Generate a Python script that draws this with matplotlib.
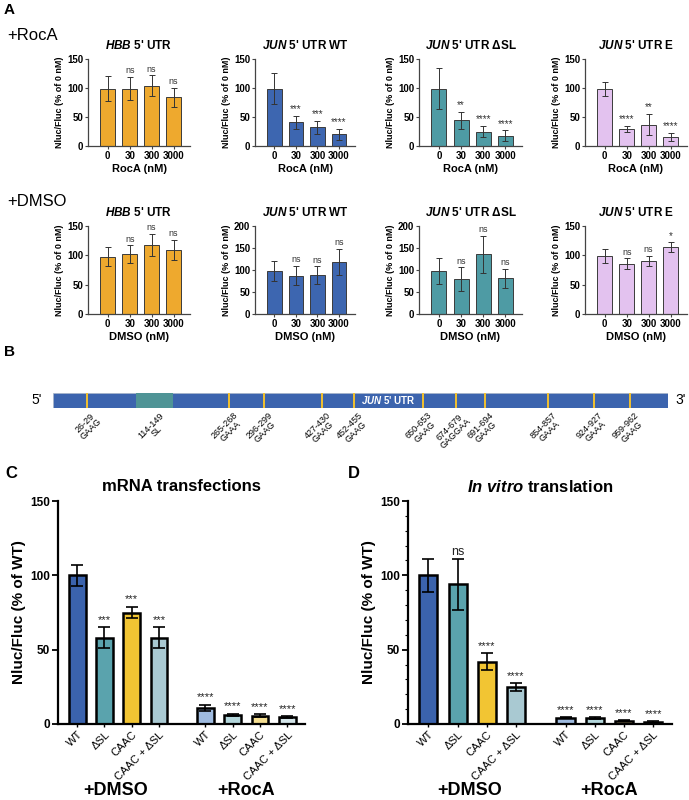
import numpy as np
import matplotlib
matplotlib.use('Agg')
import matplotlib.pyplot as plt
import matplotlib.transforms as mtransforms
from matplotlib.patches import Rectangle

plt.rcParams['font.family'] = ['Liberation Sans', 'DejaVu Sans']
plt.rcParams['mathtext.fontset'] = 'custom'
plt.rcParams['mathtext.it'] = 'Liberation Sans:italic:bold'
plt.rcParams['mathtext.rm'] = 'Liberation Sans:bold'
plt.rcParams['mathtext.bf'] = 'Liberation Sans:bold'

# ---- panel A: dose response ----
doses = ['0', '30', '300', '3000']

hbb_roca = [99, 99, 104, 84]
hbb_roca_err = [22, 20, 18, 16]
hbb_roca_sig = ['', 'ns', 'ns', 'ns']
wt_roca = [99, 41, 32, 20]
wt_roca_err = [27, 11, 11, 10]
wt_roca_sig = ['', '***', '***', '****']
dsl_roca = [99, 44, 25, 18]
dsl_roca_err = [36, 15, 10, 9]
dsl_roca_sig = ['', '**', '****', '****']
e_roca = [99, 29, 37, 15]
e_roca_err = [12, 5, 18, 7]
e_roca_sig = ['', '****', '**', '****']

hbb_dmso = [98, 102, 118, 109]
hbb_dmso_err = [17, 15, 19, 17]
hbb_dmso_sig = ['', 'ns', 'ns', 'ns']
wt_dmso = [98, 87, 88, 118]
wt_dmso_err = [23, 22, 20, 30]
wt_dmso_sig = ['', 'ns', 'ns', 'ns']
dsl_dmso = [98, 79, 136, 81]
dsl_dmso_err = [29, 27, 42, 21]
dsl_dmso_sig = ['', 'ns', 'ns', 'ns']
e_dmso = [99, 86, 90, 114]
e_dmso_err = [12, 9, 9, 8]
e_dmso_sig = ['', 'ns', 'ns', '*']

titles_A = [r"$\it{HBB}$ 5' UTR", r"$\it{JUN}$ 5' UTR WT",
            r"$\it{JUN}$ 5' UTR ΔSL", r"$\it{JUN}$ 5' UTR E"]
colors_A = ['#EEA92E', '#3D66B0', '#4E9BA4', '#E3C2EF']

# ---- panel B: JUN 5' UTR map ----
utr_len = 1000
sl_start, sl_end = 114, 149
site_start = [26, 265, 296, 427, 452, 650, 674, 691, 854, 924, 959]
site_end = [29, 268, 299, 430, 455, 653, 679, 694, 857, 927, 962]
site_motif = ['GAAG', 'GAAA', 'GAAG', 'GAAG', 'GAAG', 'GAAG', 'GAGGAA',
              'GAAG', 'GAAA', 'GAAA', 'GAAG']

# ---- panels C, D ----
constructs = ['WT', 'ΔSL', 'CAAC', 'CAAC + ΔSL']
c_dmso = [100, 58, 75, 58]
c_dmso_err = [7, 7, 4, 7]
c_dmso_sig = ['', '***', '***', '***']
c_roca = [11, 6.3, 5.6, 4.7]
c_roca_err = [2, 0.6, 1, 0.8]
c_roca_sig = ['****', '****', '****', '****']

d_dmso = [100, 94, 42, 25]
d_dmso_err = [11, 17, 5.5, 2.5]
d_dmso_sig = ['', 'ns', '****', '****']
d_roca = [4.3, 3.8, 2.2, 1.1]
d_roca_err = [0.3, 0.6, 0.3, 0.6]
d_roca_sig = ['****', '****', '****', '****']

dmso_colors = ['#3B63AD', '#5AA3AD', '#F2C533', '#A9C9D2']
roca_colors = ['#9FBBE0', '#B3D6DB', '#F5DF92', '#D4E5E9']

W, H = 689, 800
fig = plt.figure(figsize=(W / 100, H / 100), dpi=100)


def px_axes(x0, y0, x1, y1):
    return fig.add_axes([x0 / W, 1 - y1 / H, (x1 - x0) / W, (y1 - y0) / H])


def dose_panel(ax, means, errs, sig, color, title, ymax, xlabel):
    x = np.arange(len(doses))
    ax.bar(x, means, width=0.68, color=color, edgecolor='#3b3b3b', linewidth=0.7,
           yerr=errs, capsize=2.5,
           error_kw={'elinewidth': 0.7, 'capthick': 0.7, 'ecolor': '#333333'})
    for xi, m, e, s in zip(x, means, errs, sig):
        if s:
            ax.text(xi, m + e + ymax * 0.02, s, ha='center', va='bottom',
                    fontsize=6.5 if s == 'ns' else 7, color='#333333')
    ax.set_xlim(-0.9, 3.75)
    ax.set_ylim(0, ymax)
    ax.set_yticks(np.arange(0, ymax + 1, 50))
    ax.set_xticks(x)
    ax.set_xticklabels(doses)
    ax.set_title(title, fontsize=8.5, fontweight='bold', pad=7)
    ax.set_xlabel(xlabel, fontsize=8, fontweight='bold', labelpad=2)
    ax.set_ylabel('Nluc/Fluc (% of 0 nM)', fontsize=6.5, fontweight='bold', labelpad=2)
    ax.tick_params(labelsize=7, length=2, width=0.8, pad=1.5, color='#444444')
    for lab in ax.get_xticklabels() + ax.get_yticklabels():
        lab.set_fontweight('bold')
    for sp in ['top', 'right']:
        ax.spines[sp].set_visible(False)
    for sp in ['left', 'bottom']:
        ax.spines[sp].set_linewidth(0.9)
        ax.spines[sp].set_color('#444444')


cols_px = [(88, 190), (255, 355), (419, 522), (585, 687)]
roca_sets = [(hbb_roca, hbb_roca_err, hbb_roca_sig), (wt_roca, wt_roca_err, wt_roca_sig),
             (dsl_roca, dsl_roca_err, dsl_roca_sig), (e_roca, e_roca_err, e_roca_sig)]
dmso_sets = [(hbb_dmso, hbb_dmso_err, hbb_dmso_sig), (wt_dmso, wt_dmso_err, wt_dmso_sig),
             (dsl_dmso, dsl_dmso_err, dsl_dmso_sig), (e_dmso, e_dmso_err, e_dmso_sig)]
dmso_ymax = [150, 200, 200, 150]

for i, (x0, x1) in enumerate(cols_px):
    ax = px_axes(x0, 59, x1, 146)
    m, e, s = roca_sets[i]
    dose_panel(ax, m, e, s, colors_A[i], titles_A[i], 150, 'RocA (nM)')
    ax = px_axes(x0, 226, x1, 314)
    m, e, s = dmso_sets[i]
    dose_panel(ax, m, e, s, colors_A[i], titles_A[i], dmso_ymax[i], 'DMSO (nM)')

fig.text(4 / W, 1 - 3 / H, 'A', fontsize=11, fontweight='bold', va='top')
fig.text(7 / W, 1 - 36 / H, '+RocA', fontsize=12, va='center')
fig.text(7 / W, 1 - 202 / H, '+DMSO', fontsize=12, va='center')

# ---- panel B ----
# schematic (not to scale) axis: gaps between features drawn by a + sqrt(length)
site_mid = [(s + e) / 2 for s, e in zip(site_start, site_end)]
bounds = np.array([0] + sorted(site_mid + [sl_start, sl_end]) + [utr_len], dtype=float)
schem = np.concatenate([[0.0], np.cumsum(3.4 + np.sqrt(np.diff(bounds)))])


def fwd(x):
    return np.interp(x, bounds, schem)


def inv(y):
    return np.interp(y, schem, bounds)


axb = px_axes(53, 393, 668, 408)
axb.set_xscale('function', functions=(fwd, inv))
axb.add_patch(Rectangle((0, 0), utr_len, 1, facecolor='#3C64AE', edgecolor='#a8b4c8', lw=0.5))
axb.add_patch(Rectangle((sl_start, 0), sl_end - sl_start, 1, facecolor='#4F9496', edgecolor='none'))
lab_kw = dict(rotation=45, ha='right', va='top', rotation_mode='anchor', fontsize=6.5,
              linespacing=0.95, multialignment='center', textcoords='offset points',
              annotation_clip=False)
for s, e, mid, mtf in zip(site_start, site_end, site_mid, site_motif):
    axb.axvline(mid, color='#F2C12E', lw=1.4)
    axb.annotate(f'{s}-{e}\n{mtf}', xy=(mid, 0), xytext=(3, -2), **lab_kw)
axb.annotate(f'{sl_start}-{sl_end}\nSL', xy=((sl_start + sl_end) / 2, 0), xytext=(3, -2), **lab_kw)
axb.text((site_end[4] + site_start[5]) / 2, 0.5, r"$\it{JUN}$ 5' UTR", color='white',
         fontsize=7, fontweight='bold', ha='center', va='center')
axb.text(-0.018, 0.5, "5'", transform=axb.transAxes, fontsize=10, ha='right', va='center')
axb.text(1.012, 0.5, "3'", transform=axb.transAxes, fontsize=10, ha='left', va='center')
axb.set_xlim(0, utr_len)
axb.set_ylim(0, 1)
axb.axis('off')
fig.text(4 / W, 1 - 345 / H, 'B', fontsize=11, fontweight='bold', va='top')


# ---- panels C, D ----
def construct_panel(ax, dmso, dmso_err, dmso_sig, roca, roca_err, roca_sig, title, minor):
    xd = np.arange(len(constructs))
    xr = xd + 4.7
    ekw = {'elinewidth': 1.2, 'capthick': 1.2, 'ecolor': 'black'}
    ax.bar(xd, dmso, width=0.62, color=dmso_colors, edgecolor='black', linewidth=1.8,
           yerr=dmso_err, capsize=4, error_kw=ekw)
    ax.bar(xr, roca, width=0.62, color=roca_colors, edgecolor='black', linewidth=1.8,
           yerr=roca_err, capsize=4, error_kw=ekw)
    for xs, ms, es, ss in [(xd, dmso, dmso_err, dmso_sig), (xr, roca, roca_err, roca_sig)]:
        for xi, m, e, s in zip(xs, ms, es, ss):
            if s:
                ax.text(xi, m + e + (0.8 if s == 'ns' else 1.5), s, ha='center', va='bottom',
                        fontsize=9 if s == 'ns' else 8, color='#222222')
    ax.set_xlim(-0.7, 8.35)
    ax.set_ylim(0, 150)
    ax.set_yticks([0, 50, 100, 150])
    if minor:
        ax.set_yticks(np.arange(0, 151, 10), minor=True)
    ax.set_xticks(np.concatenate([xd, xr]))
    ax.set_xticklabels(constructs * 2, rotation=45, ha='right', rotation_mode='anchor',
                       fontsize=8)
    ax.tick_params(axis='y', labelsize=8.5, length=4, width=1.3, pad=2)
    ax.tick_params(axis='y', which='minor', length=2, width=0.8)
    ax.tick_params(axis='x', length=2, width=1, pad=2)
    for lab in ax.get_yticklabels():
        lab.set_fontweight('bold')
    ax.set_ylabel('Nluc/Fluc (% of WT)', fontsize=11, fontweight='bold', labelpad=3)
    ax.text(0.5, 1.065, title, transform=ax.transAxes, ha='center', va='center',
            fontsize=12, fontweight='bold')
    for sp in ['top', 'right']:
        ax.spines[sp].set_visible(False)
    for sp in ['left', 'bottom']:
        ax.spines[sp].set_linewidth(1.6)
    trans = mtransforms.blended_transform_factory(ax.transData, ax.transAxes)
    ax.text(1.4, -0.3, '+DMSO', transform=trans, ha='center', va='center',
            fontsize=13, fontweight='bold')
    ax.text(6.2, -0.3, '+RocA', transform=trans, ha='center', va='center',
            fontsize=13, fontweight='bold')


axc = px_axes(58, 501, 305, 724)
construct_panel(axc, c_dmso, c_dmso_err, c_dmso_sig, c_roca, c_roca_err, c_roca_sig,
                'mRNA transfections', False)
axd = px_axes(408, 501, 672, 724)
construct_panel(axd, d_dmso, d_dmso_err, d_dmso_sig, d_roca, d_roca_err, d_roca_sig,
                r'$\it{In\ vitro}$ translation', True)
fig.text(5 / W, 1 - 466 / H, 'C', fontsize=12, fontweight='bold', va='top')
fig.text(348 / W, 1 - 466 / H, 'D', fontsize=12, fontweight='bold', va='top')

fig.savefig('out.png', dpi=100)
